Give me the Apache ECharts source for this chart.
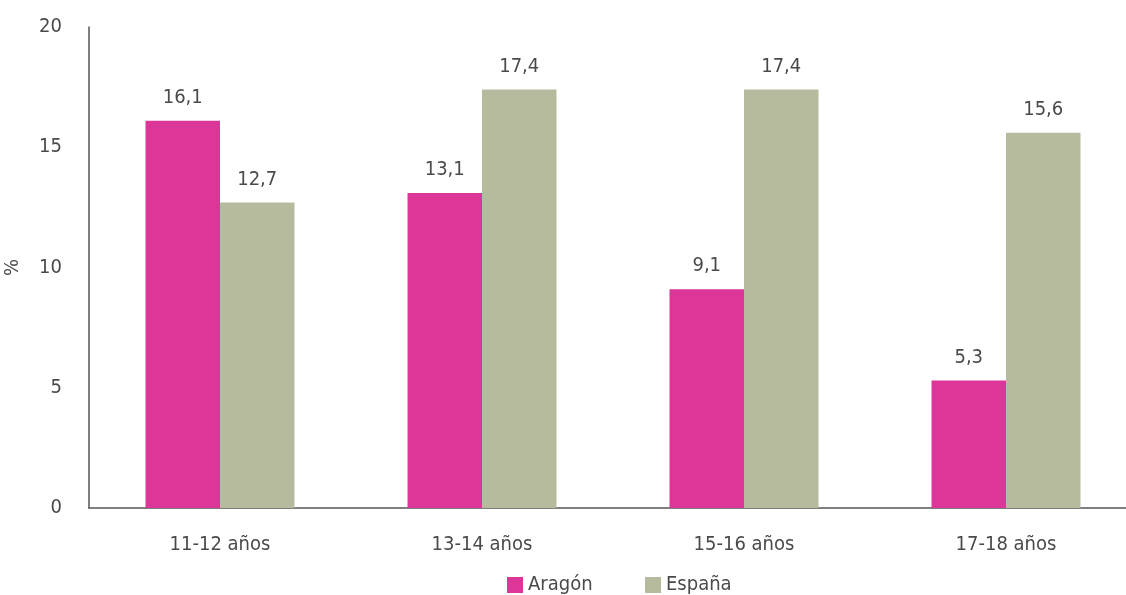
<!DOCTYPE html>
<html><head><meta charset="utf-8">
<script src="https://cdn.jsdelivr.net/npm/echarts@6/dist/echarts.min.js"></script>
<style>html,body{margin:0;padding:0;background:#fff}#c{width:1126px;height:595px}</style>
</head><body><div id="c"></div>
<script>
const categories = ['11-12 años', '13-14 años', '15-16 años', '17-18 años'];
const aragon = [16.1, 13.1, 9.1, 5.3];
const espana = [12.7, 17.4, 17.4, 15.6];
const yTicks = [0, 5, 10, 15, 20];
const FONT = '"Liberation Sans Narrow", "DejaVu Sans Condensed", sans-serif';
const TXT = '#4a4a4a';
const chart = echarts.init(document.getElementById('c'));
const fmt = p => String(p.value).replace('.', ',');
const legendBase = { top: 575, padding: 0, itemWidth: 16, itemHeight: 16, itemGap: 5, icon: 'rect',
  textStyle: { fontFamily: FONT, fontSize: 20, color: TXT } };
chart.setOption({
  animation: false,
  textStyle: { fontFamily: FONT },
  grid: { left: 89, top: 27, width: 1048, height: 481, containLabel: false, outerBoundsMode: 'none' },
  legend: [
    Object.assign({}, legendBase, { left: 507, data: ['Aragón'] }),
    Object.assign({}, legendBase, { left: 645, data: ['España'] })
  ],
  xAxis: {
    type: 'category', data: categories,
    axisLine: { lineStyle: { color: '#555', width: 1.5 } },
    axisTick: { show: false },
    axisLabel: { fontFamily: FONT, fontSize: 20, color: TXT, margin: 27 }
  },
  yAxis: {
    type: 'value', min: 0, max: 20, interval: 5,
    name: '%', nameLocation: 'middle', nameGap: 66,
    nameTextStyle: { fontFamily: FONT, fontSize: 20, color: TXT },
    axisLine: { show: true, lineStyle: { color: '#555', width: 1.5 } },
    axisTick: { show: false },
    splitLine: { show: false },
    axisLabel: { fontFamily: FONT, fontSize: 20, color: TXT, margin: 27,
      formatter: v => yTicks.includes(v) ? String(v) : '' }
  },
  series: [
    { name: 'Aragón', type: 'bar', data: aragon, barWidth: 74.5, barGap: '0%',
      itemStyle: { color: '#dd3699' },
      label: { show: true, position: 'top', distance: 13, formatter: fmt,
        fontFamily: FONT, fontSize: 20, color: TXT } },
    { name: 'España', type: 'bar', data: espana, barWidth: 74.5, barGap: '0%',
      itemStyle: { color: '#b7bb9d' },
      label: { show: true, position: 'top', distance: 13, formatter: fmt,
        fontFamily: FONT, fontSize: 20, color: TXT } }
  ]
});
</script></body></html>
